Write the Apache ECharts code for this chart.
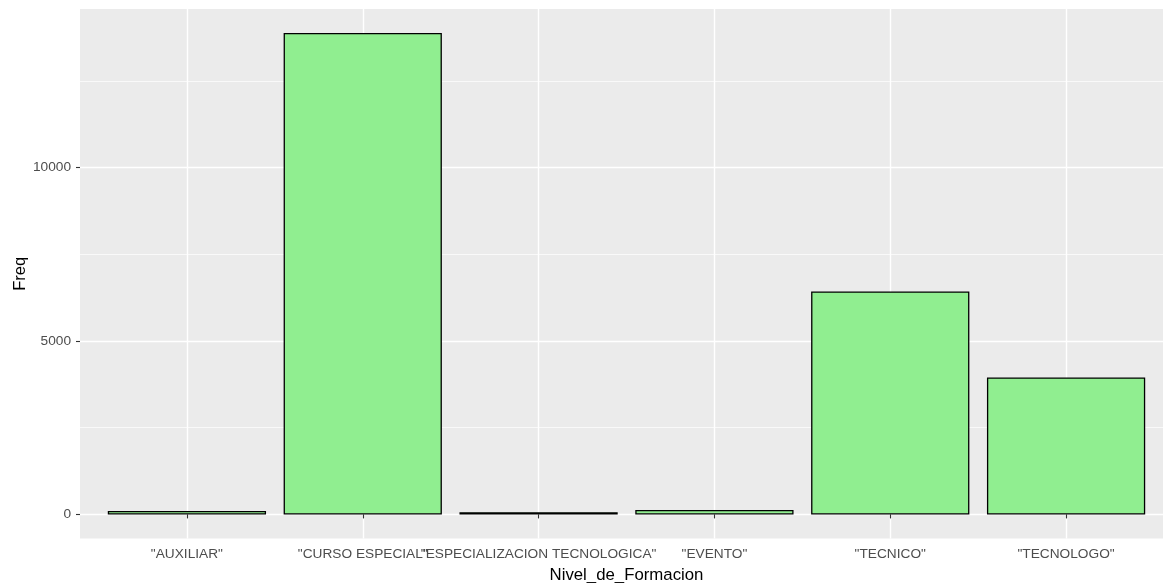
<!DOCTYPE html>
<html>
<head>
<meta charset="utf-8">
<script src="https://cdn.jsdelivr.net/npm/echarts@6/dist/echarts.min.js"></script>
<style>html,body{margin:0;padding:0;background:#fff}#c{width:1163px;height:583px}</style>
</head>
<body>
<div id="c"></div>
<script>
const categories = ['"AUXILIAR"', '"CURSO ESPECIAL"', '"ESPECIALIZACION TECNOLOGICA"', '"EVENTO"', '"TECNICO"', '"TECNOLOGO"'];
const freq = [100, 13880, 65, 130, 6430, 3950];
const majorTicks = [0, 5000, 10000];
const minorTicks = [2500, 7500, 12500];
const yMin = -694;
const yMax = 14574;

const font = 'Liberation Sans, Arial, sans-serif';
const chart = echarts.init(document.getElementById('c'), null, {renderer: 'canvas'});
chart.setOption({
  animation: false,
  backgroundColor: '#ffffff',
  grid: [
    {left: 80, right: -8.5, top: 9, bottom: 44.5, show: true, backgroundColor: '#EBEBEB', borderWidth: 0, containLabel: false, outerBoundsMode: 'none'},
    {left: 99, right: 9, top: 9, bottom: 44.5, containLabel: false, outerBoundsMode: 'none'}
  ],
  xAxis: [
    {gridIndex: 0, type: 'value', min: 0, max: 1, show: false},
    {
      gridIndex: 1, type: 'category', data: categories,
      axisLine: {show: false},
      axisTick: {show: true, alignWithLabel: true, length: 4, lineStyle: {color: '#333333', width: 1.1}},
      axisLabel: {interval: 0, color: '#4D4D4D', fontSize: 13.7, fontFamily: font, margin: 9, hideOverlap: false},
      splitLine: {show: true, alignWithLabel: true, lineStyle: {color: '#ffffff', width: 1.4}},
      name: 'Nivel_de_Formacion', nameLocation: 'middle', nameGap: 28, nameMoveOverlap: false,
      nameTextStyle: {color: '#000000', fontSize: 16.8, fontFamily: font}
    }
  ],
  yAxis: [
    {
      gridIndex: 0, type: 'value', min: yMin, max: yMax,
      axisLine: {show: false},
      axisTick: {show: true, length: 4, customValues: majorTicks, lineStyle: {color: '#333333', width: 1.1}},
      axisLabel: {customValues: majorTicks, color: '#4D4D4D', fontSize: 13.7, fontFamily: font, margin: 9, formatter: v => String(v)},
      splitLine: {show: true, lineStyle: {color: '#ffffff', width: 1.4}},
      name: 'Freq', nameLocation: 'middle', nameGap: 51, nameRotate: 90, nameMoveOverlap: false,
      nameTextStyle: {color: '#000000', fontSize: 16.5, fontFamily: font}
    },
    {
      gridIndex: 0, type: 'value', min: yMin, max: yMax,
      axisLine: {show: false},
      axisTick: {show: false, customValues: minorTicks},
      axisLabel: {show: false, customValues: minorTicks},
      splitLine: {show: true, lineStyle: {color: '#ffffff', width: 0.7}}
    },
    {gridIndex: 1, type: 'value', min: yMin, max: yMax, show: false, splitLine: {show: false}}
  ],
  series: [{
    type: 'bar', xAxisIndex: 1, yAxisIndex: 2,
    data: freq, barWidth: '90%',
    itemStyle: {color: '#90EE90', borderColor: '#000000', borderWidth: 1.3}
  }]
});
</script>
</body>
</html>
